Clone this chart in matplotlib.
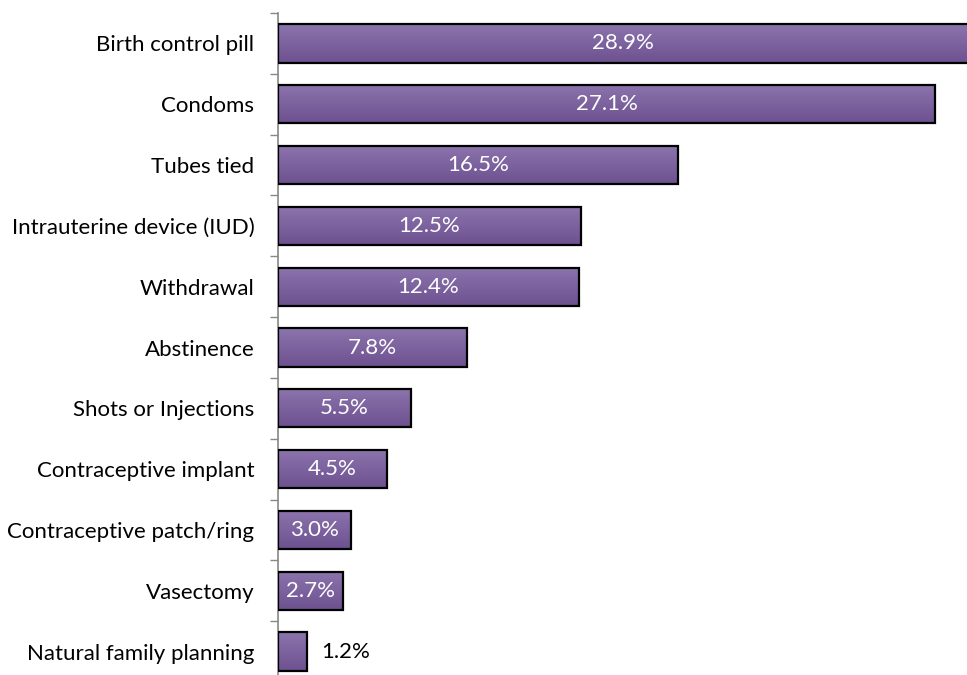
import numpy as np
import matplotlib.pyplot as plt
from matplotlib.patches import Rectangle
from matplotlib.colors import LinearSegmentedColormap

methods = ["Birth control pill", "Condoms", "Tubes tied", "Intrauterine device (IUD)",
           "Withdrawal", "Abstinence", "Shots or Injections", "Contraceptive implant",
           "Contraceptive patch/ring", "Vasectomy", "Natural family planning"]
shares = [28.9, 27.1, 16.5, 12.5, 12.4, 7.8, 5.5, 4.5, 3.0, 2.7, 1.2]

plt.rcParams['font.family'] = ['Lato', 'DejaVu Sans']

fig = plt.figure(figsize=(9.67, 6.75), dpi=100)
ax = fig.add_axes([0.2875, -0.0104, 0.7125, 0.9911])

xmax = 28.42

# vertical gradient used to fill each bar
grad = np.linspace(0, 1, 64).reshape(-1, 1)
cmap = LinearSegmentedColormap.from_list("purp", ["#8c74ad", "#6d5190"])

h = 0.63
fs = 16
for i, (m, v) in enumerate(zip(methods, shares)):
    y0 = i - h / 2
    rect = Rectangle((0, y0), v, h, facecolor="none", edgecolor="black", lw=1.6, zorder=3)
    ax.add_patch(rect)
    im = ax.imshow(grad, cmap=cmap, aspect="auto", extent=(0, v, y0 + h, y0),
                   zorder=2, interpolation="bilinear")
    im.set_clip_path(rect)
    label = f"{v:.1f}%"
    if v < 2:
        ax.text(v + 0.6, i, label, ha="left", va="center", color="black", fontsize=fs)
    else:
        xc = min(v, xmax) / 2
        ax.text(xc, i, label, ha="center", va="center", color="white", fontsize=fs, zorder=4)

ax.set_xlim(0, xmax)
ax.set_ylim(len(methods) - 0.5, -0.5)

ax.set_yticks(range(len(methods)))
ax.set_yticklabels(methods, fontsize=fs)
ax.set_yticks(np.arange(-0.5, len(methods), 1), minor=True)
ax.tick_params(axis="y", which="major", length=0, pad=17)
ax.tick_params(axis="y", which="minor", length=6, color="#888888", width=1)
ax.set_xticks([])

for s in ["top", "right", "bottom"]:
    ax.spines[s].set_visible(False)
ax.spines["left"].set_color("#888888")
ax.spines["left"].set_linewidth(1.2)

fig.savefig("out.png", dpi=100)
